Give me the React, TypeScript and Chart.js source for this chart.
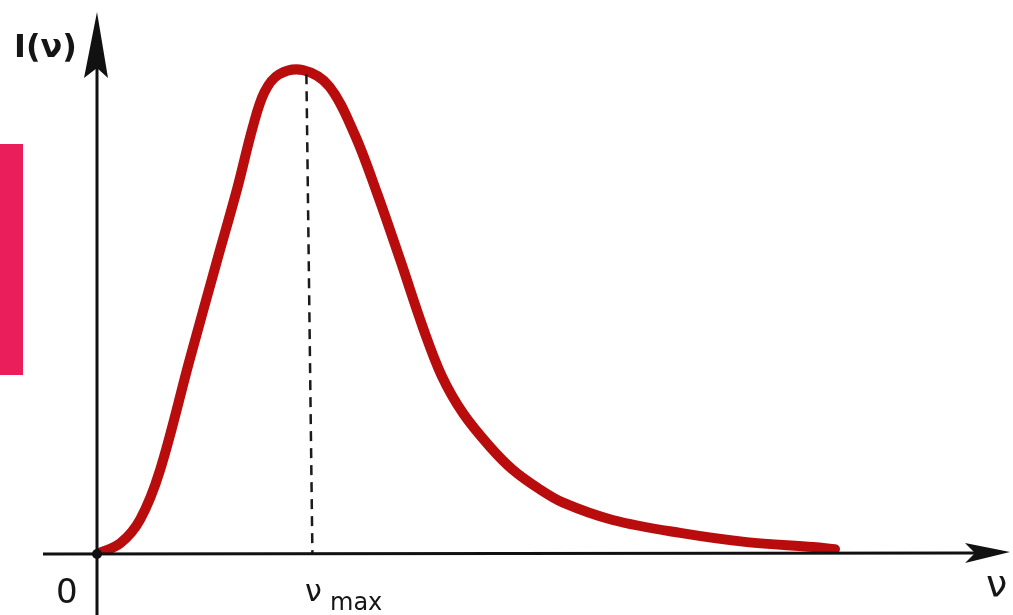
import React, { useEffect, useRef } from "react";
import { Chart, registerables } from "chart.js";

Chart.register(...registerables);

// Frequency ν (arbitrary units) and intensity I(ν)
const nu = [0, 0.26, 0.48, 0.7, 1.03, 1.33, 1.56, 1.73, 1.86, 2.02, 2.29, 2.58, 2.86, 3.11, 3.37, 3.62, 3.83, 4.07, 4.37, 4.62, 4.9, 5.18, 5.73, 6.48, 7.22, 7.96, 8.2];
const intensity = [0, 0.2, 0.64, 1.55, 3.6, 5.41, 6.78, 7.9, 8.55, 8.88, 8.96, 8.66, 7.78, 6.69, 5.44, 4.2, 3.3, 2.6, 1.98, 1.56, 1.22, 0.95, 0.63, 0.39, 0.22, 0.13, 0.09];
const nuMax = [2.36];
const labels = ["I(ν)", "0", "ν", "max", "ν"];

export default function App() {
  const ref = useRef<HTMLCanvasElement | null>(null);

  useEffect(() => {
    if (!ref.current) return;
    const axesPlugin = {
      id: "axesPlugin",
      afterDraw(chart: any) {
        const ctx = chart.ctx as CanvasRenderingContext2D;
        const xs = chart.scales.x;
        const ys = chart.scales.y;
        const x0 = xs.getPixelForValue(0);
        const y0 = ys.getPixelForValue(0);
        ctx.save();
        // dashed ν_max line
        const peak = Math.max(...intensity);
        const xm = xs.getPixelForValue(nuMax[0]);
        ctx.strokeStyle = "#1a1a1a";
        ctx.lineWidth = 2.5;
        ctx.setLineDash([10, 7]);
        ctx.beginPath();
        ctx.moveTo(xm - 3, ys.getPixelForValue(peak) + 4);
        ctx.lineTo(xm + 3, y0);
        ctx.stroke();
        ctx.setLineDash([]);
        // axes
        ctx.strokeStyle = "#111";
        ctx.fillStyle = "#111";
        ctx.lineWidth = 3;
        ctx.beginPath();
        ctx.moveTo(43, y0);
        ctx.lineTo(975, y0 - 1);
        ctx.stroke();
        ctx.beginPath();
        ctx.moveTo(x0, 615);
        ctx.lineTo(x0, 60);
        ctx.stroke();
        // y arrow
        ctx.beginPath();
        ctx.moveTo(x0, 12);
        ctx.lineTo(x0 + 11, 78);
        ctx.lineTo(x0, 68);
        ctx.lineTo(x0 - 13, 78);
        ctx.closePath();
        ctx.fill();
        // x arrow
        ctx.beginPath();
        ctx.moveTo(1010, y0 - 2);
        ctx.lineTo(965, y0 + 9);
        ctx.lineTo(975, y0 - 1);
        ctx.lineTo(965, y0 - 11);
        ctx.closePath();
        ctx.fill();
        // origin dot
        ctx.beginPath();
        ctx.arc(x0, y0, 5, 0, Math.PI * 2);
        ctx.fill();
        // labels
        ctx.fillStyle = "#151515";
        ctx.textBaseline = "alphabetic";
        ctx.font = "bold 32px 'DejaVu Sans'";
        ctx.fillText(labels[0], 14, 57);
        ctx.font = "34px 'DejaVu Sans'";
        ctx.fillText(labels[1], 56, 603);
        ctx.font = "30px 'DejaVu Sans'";
        ctx.fillText(labels[2], 305, 601);
        ctx.font = "24px 'DejaVu Sans'";
        ctx.fillText(labels[3], 330, 610);
        ctx.font = "38px 'DejaVu Sans'";
        ctx.fillText(labels[4], 986, 597);
        ctx.restore();
      },
    };

    const chart = new Chart(ref.current, {
      type: "line",
      data: {
        datasets: [
          {
            data: nu.map((v, i) => ({ x: v, y: intensity[i] })),
            borderColor: "#b90d0d",
            borderWidth: 10,
            pointRadius: 0,
            tension: 0.35,
            borderCapStyle: "round",
            borderJoinStyle: "round",
            fill: false,
          },
        ],
      },
      options: {
        responsive: false,
        animation: false,
        layout: { padding: { left: 97, right: 16, top: 14, bottom: 61 } },
        plugins: { legend: { display: false }, tooltip: { enabled: false } },
        scales: {
          x: { type: "linear", min: 0, max: 10, display: false },
          y: { type: "linear", min: 0, max: 10, display: false },
        },
      },
      plugins: [axesPlugin],
    });
    return () => chart.destroy();
  }, []);

  return (
    <div style={{ position: "fixed", left: 0, top: 0, width: 1013, height: 615, background: "#fff" }}>
      <div style={{ position: "absolute", left: 0, top: 144, width: 23, height: 231, background: "#e91e5a" }} />
      <canvas ref={ref} width={1013} height={615} style={{ position: "absolute", left: 0, top: 0 }} />
    </div>
  );
}
